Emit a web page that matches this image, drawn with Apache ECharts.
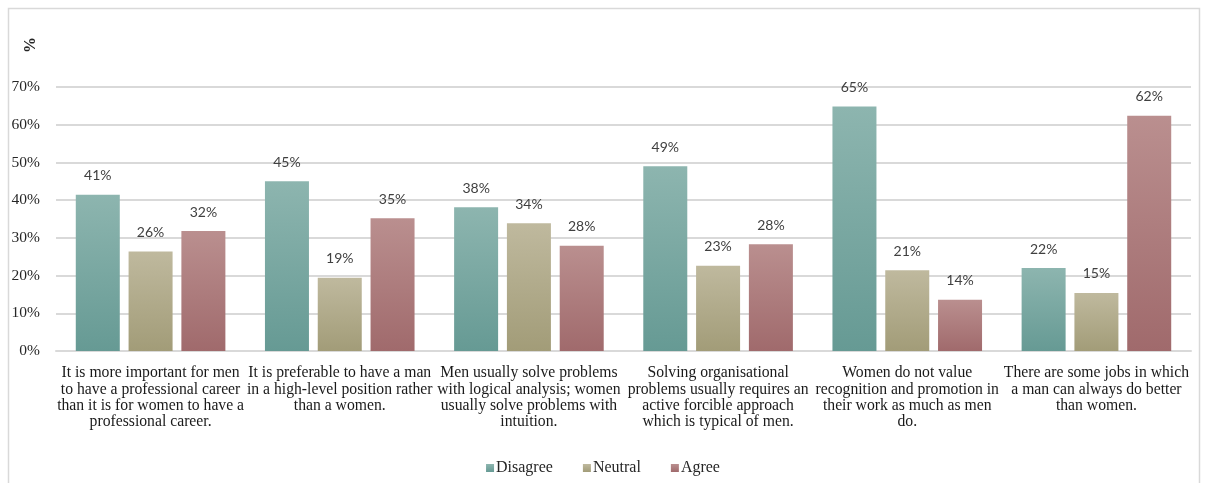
<!DOCTYPE html>
<html>
<head>
<meta charset="utf-8">
<script src="https://cdn.jsdelivr.net/npm/echarts@6/dist/echarts.min.js"></script>
<style>
  html, body { margin: 0; padding: 0; background: #fff; }
  #chart { width: 1206px; height: 483px; }
</style>
</head>
<body>
<div id="chart"></div>
<script>
// Survey statements (category axis)
const categories = [
  'It is more important for men\nto have a professional career\nthan it is for women to have a\nprofessional career.',
  'It is preferable to have a man\nin a high-level position rather\nthan a women.',
  'Men usually solve problems\nwith logical analysis; women\nusually solve problems with\nintuition.',
  'Solving organisational\nproblems usually requires an\nactive forcible approach\nwhich is typical of men.',
  'Women do not value\nrecognition and promotion in\ntheir work as much as men\ndo.',
  'There are some jobs in which\na man can always do better\nthan women.'
];

// Share of respondents (%)
const disagree = [41.4, 45.0, 38.1, 49.0, 64.8, 22.0];
const neutral  = [26.4, 19.4, 33.9, 22.6, 21.4, 15.4];
const agree    = [31.8, 35.2, 27.9, 28.3, 13.6, 62.4];

const seriesNames = ['Disagree', 'Neutral', 'Agree'];
const yTicks = { min: 0, max: 70, interval: 10 };

const serif = '"Liberation Serif", "Times New Roman", serif';
const sans = 'Lato, "Liberation Sans", sans-serif';

function grad(top, bottom) {
  return new echarts.graphic.LinearGradient(0, 0, 0, 1, [
    { offset: 0, color: top },
    { offset: 1, color: bottom }
  ]);
}

const palette = [
  ['#8db5af', '#669a94', '#79a9a2'],
  ['#bfb99e', '#a29c78', '#b1ab8b'],
  ['#ba8f8f', '#a06a6c', '#ad7e7f']
];

function makeSeries(name, data, idx) {
  return {
    name: name,
    type: 'bar',
    data: data,
    barWidth: 44,
    barGap: '20%',
    itemStyle: { color: grad(palette[idx][0], palette[idx][1]) },
    label: {
      show: true,
      position: 'top',
      distance: 12,
      fontFamily: sans,
      fontSize: 14,
      color: '#404040',
      formatter: p => Math.round(p.value) + '%'
    }
  };
}

const chart = echarts.init(document.getElementById('chart'), null, { renderer: 'canvas' });

chart.setOption({
  animation: false,
  backgroundColor: '#ffffff',
  color: palette.map(p => p[2]),
  graphic: [
    {
      type: 'rect',
      shape: { x: 8.5, y: 8.5, width: 1191, height: 490 },
      style: { fill: 'none', stroke: '#d9d9d9', lineWidth: 1.5 },
      silent: true
    },
    {
      type: 'text',
      x: 31,
      y: 45,
      rotation: Math.PI / 2,
      style: {
        text: '%',
        fontFamily: serif,
        fontSize: 16,
        fontWeight: 'bold',
        fill: '#262626',
        align: 'center',
        verticalAlign: 'middle'
      }
    }
  ],
  legend: {
    bottom: 2,
    left: 'center',
    icon: 'rect',
    itemWidth: 8,
    itemHeight: 8,
    itemGap: 30,
    data: seriesNames,
    textStyle: { fontFamily: serif, fontSize: 16, color: '#262626', padding: [0, 0, 0, -3] }
  },
  grid: { left: 56, right: 15, top: 87, bottom: 132, containLabel: false },
  xAxis: {
    type: 'category',
    data: categories,
    axisTick: { show: false },
    axisLine: { lineStyle: { color: '#d9d9d9', width: 2 } },
    axisLabel: {
      interval: 0,
      margin: 14,
      fontFamily: serif,
      fontSize: 15.7,
      lineHeight: 16.3,
      color: '#1a1a1a',
      align: 'center'
    }
  },
  yAxis: {
    type: 'value',
    min: yTicks.min,
    max: yTicks.max,
    interval: yTicks.interval,
    axisLine: { show: false },
    axisTick: { show: false },
    splitLine: { lineStyle: { color: '#d9d9d9', width: 2 } },
    axisLabel: {
      margin: 16,
      fontFamily: serif,
      fontSize: 15.5,
      color: '#262626',
      formatter: v => v + '%'
    }
  },
  series: [
    makeSeries(seriesNames[0], disagree, 0),
    makeSeries(seriesNames[1], neutral, 1),
    makeSeries(seriesNames[2], agree, 2)
  ]
});
</script>
</body>
</html>
